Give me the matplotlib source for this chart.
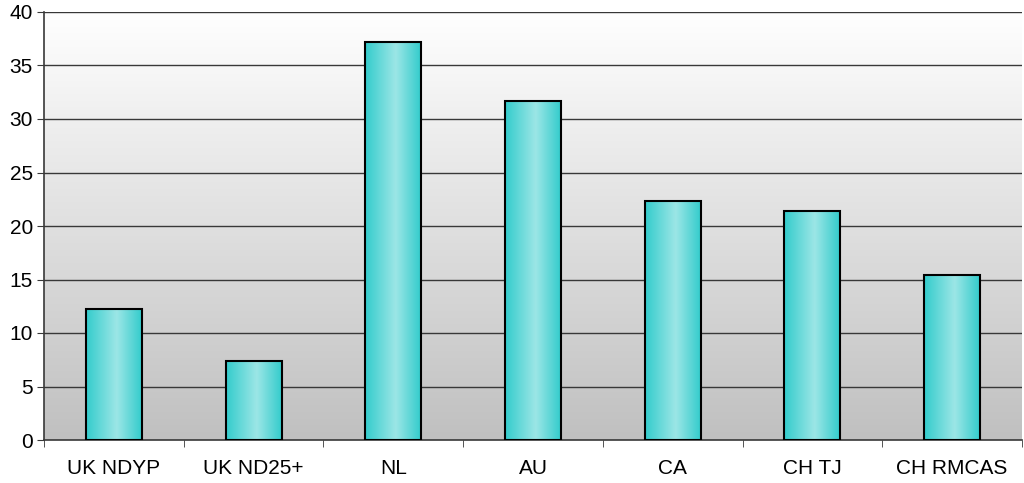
import numpy as np
import matplotlib
import matplotlib.pyplot as plt
from matplotlib.colors import LinearSegmentedColormap

matplotlib.use("Agg")

categories = ["UK NDYP", "UK ND25+", "NL", "AU", "CA", "CH TJ", "CH RMCAS"]
values = [12.2, 7.4, 37.2, 31.7, 22.3, 21.4, 15.4]

plt.rcParams["font.family"] = ["Liberation Sans", "DejaVu Sans"]

fig = plt.figure(figsize=(10.24, 4.83), dpi=100)
ax = fig.add_axes([44 / 1024, 43 / 483, 978 / 1024, 428 / 483])

x = np.arange(len(categories))
ax.set_xlim(-0.5, len(categories) - 0.5)
ax.set_ylim(0, 40)

# Background: vertical gradient white -> grey
bg = LinearSegmentedColormap.from_list("bg", ["#c0c0c0", "#ffffff"])
ax.imshow(np.linspace(0, 1, 256).reshape(-1, 1), cmap=bg, aspect="auto",
          extent=[-0.5, len(categories) - 0.5, 0, 40], origin="lower", zorder=0)

# Horizontal gridlines
for yv in range(5, 45, 5):
    ax.axhline(yv, color="#383838", linewidth=1.0, zorder=1)

# Bars with horizontal cyan gradient
bar_cmap = LinearSegmentedColormap.from_list(
    "bar", [(0.0, "#33cccc"), (0.55, "#9ce6e6"), (1.0, "#33cccc")])
grad = np.linspace(0, 1, 256).reshape(1, -1)
bars = ax.bar(x, values, width=0.4, facecolor="none", edgecolor="black",
              linewidth=1.5, zorder=3)
for rect in bars:
    x0, w, h = rect.get_x(), rect.get_width(), rect.get_height()
    im = ax.imshow(grad, cmap=bar_cmap, aspect="auto",
                   extent=[x0, x0 + w, 0, h], zorder=2)
    im.set_clip_path(rect)

ax.set_xlim(-0.5, len(categories) - 0.5)
ax.set_ylim(0, 40)

ax.set_yticks(range(0, 45, 5))
ax.set_xticks(x)
ax.set_xticklabels(categories)
ax.set_xticks(np.arange(-0.5, len(categories)), minor=True)
ax.tick_params(axis="x", which="major", length=0, pad=14, labelsize=15)
ax.tick_params(axis="x", which="minor", length=5, color="#383838")
ax.tick_params(axis="y", length=5, color="#383838", labelsize=15, pad=3)

for side in ["top", "right"]:
    ax.spines[side].set_visible(False)
ax.spines["left"].set_color("#383838")
ax.spines["bottom"].set_color("#383838")
ax.spines["left"].set_linewidth(1.2)
ax.spines["bottom"].set_linewidth(1.2)

fig.savefig("out.png", dpi=100)
